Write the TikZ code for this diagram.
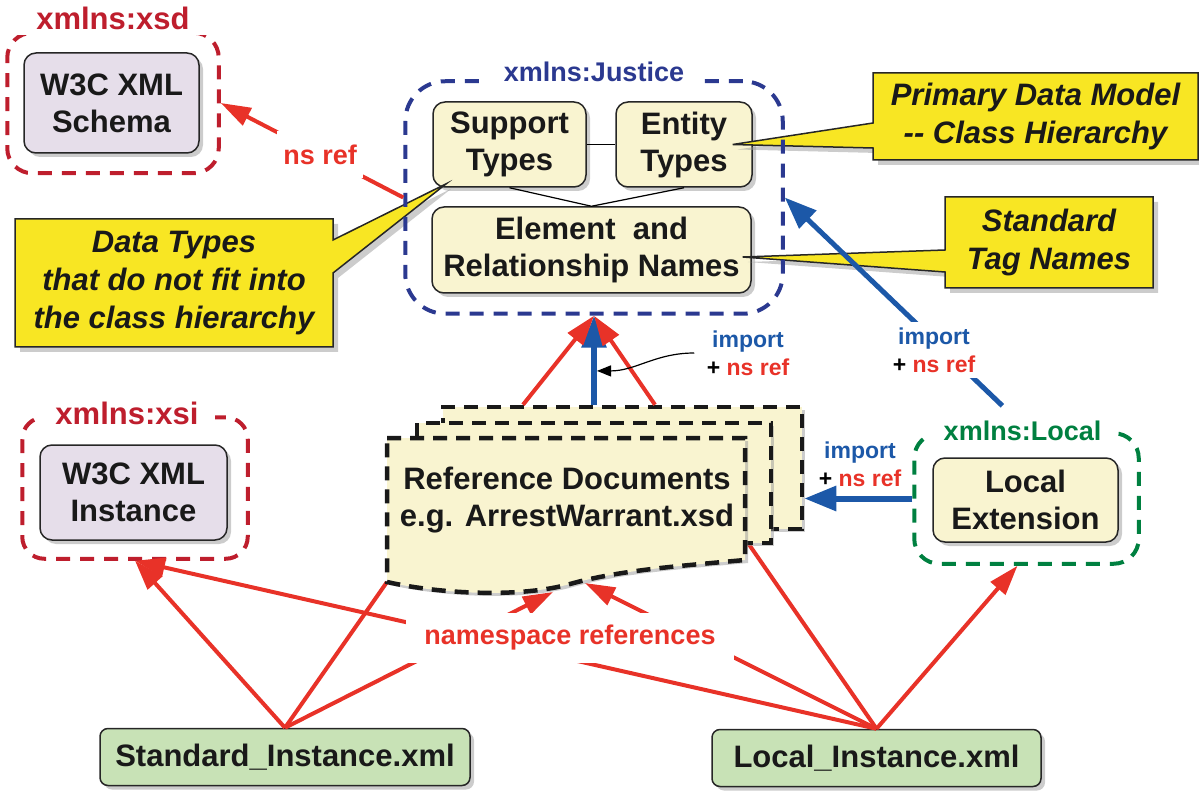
\documentclass[tikz,border=0pt]{standalone}
\usepackage{fontspec}
\setmainfont{Liberation Sans}
\definecolor{nsred}{RGB}{190,30,45}
\definecolor{refred}{RGB}{232,50,40}
\definecolor{nsblue}{RGB}{43,57,144}
\definecolor{impblue}{RGB}{28,88,168}
\definecolor{nsgreen}{RGB}{0,128,64}
\definecolor{lilac}{RGB}{230,222,234}
\definecolor{cream}{RGB}{249,244,208}
\definecolor{notes}{RGB}{248,230,35}
\definecolor{mint}{RGB}{200,226,182}
\usetikzlibrary{positioning,shapes,arrows.meta,backgrounds,fit,shadows}

\begin{document}
\begin{tikzpicture}[x=1pt, y=-1pt,
    txt/.style={align=center, font=\fontsize{31}{37}\selectfont\bfseries, text=black!90},
    box/.style={txt, rectangle, rounded corners=12pt, draw=black!85, line width=1.5pt, drop shadow={shadow xshift=4pt, shadow yshift=-4pt, fill=black!40}},
    w3c/.style={box, fill=lilac, minimum width=175pt, minimum height=100pt},
    part/.style={box, fill=cream},
    inst/.style={box, rounded corners=8pt, fill=mint, minimum height=57pt},
    nsbox/.style={rectangle, draw=#1, line width=4pt, dash pattern=on 14pt off 10pt},
    nslabel/.style={fill=white, inner xsep=16pt, inner ysep=5pt, anchor=base, font=\fontsize{31}{37}\selectfont\bfseries},
    note/.style={fill=notes, draw=black!85, line width=1.5pt, drop shadow={shadow xshift=5pt, shadow yshift=-5pt, fill=black!40}},
    notetext/.style={align=center, font=\fontsize{31}{38}\selectfont\bfseries\itshape, text=black!90},
    sheet/.style={draw=black!90, fill=cream, line width=4.5pt, dash pattern=on 14pt off 9pt, drop shadow={shadow xshift=3pt, shadow yshift=-3pt, fill=black!40}},
    ref/.style={draw=refred, line width=4pt, -{Triangle[length=30pt, width=19pt]}},
    imp/.style={draw=impblue, line width=6pt, -{Triangle[length=32pt, width=24pt]}},
    small/.style={align=center, font=\fontsize{23}{28}\selectfont\bfseries}
]
    \useasboundingbox (0,0) rectangle (1199,791);

    % xmlns:xsd
    \node[w3c] (schema) at (111.5,103) {W3C XML\\Schema};
    \node[nsbox=nsred, rounded corners=25pt, fit=(schema), inner xsep=17.5pt, inner ysep=19.5pt, xshift=1.5pt] (xsdns) {};
    \node[nslabel, text=nsred, yshift=1pt, inner xsep=24pt] (xsdlbl) at (xsdns.north) {xmlns:xsd};

    % xmlns:Justice
    \node[part, minimum width=153pt, minimum height=85pt] (support) at (509.5,144.5) {Support\\Types};
    \node[part, minimum width=136pt, minimum height=85pt] (entity) at (684,144.5) {Entity\\Types};
    \node[part, minimum width=319pt, minimum height=86pt] (element) at (591.5,250) {Element~~and\\Relationship Names};
    \draw[line width=1.2pt] (support) -- (entity);
    \draw[line width=1.2pt] (support.south) -- (element.north) -- (entity.south);

    \path[note] (873,73) -- (1198,73) -- (1198,160) -- (873,160) -- (873,148) -- ([xshift=-20pt]entity.east) -- (873,123) -- cycle;
    \node[notetext] (model) at (1035.5,116.5) {Primary Data Model\\-{}- Class Hierarchy};
    \path[note] (945,197) -- (1153,197) -- (1153,288) -- (945,288) -- (945,272) -- ([xshift=-9pt,yshift=-7pt]element.east) -- (945,250) -- cycle;
    \node[notetext] (tags) at (1049,242.5) {Standard\\Tag Names};
    \path[note] (15,219) -- (333,219) -- (333,240) -- ([xshift=14pt,yshift=4pt]support.south west) -- (333,273) -- (333,347) -- (15,347) -- cycle;
    \node[notetext] (dtypes) at (174,283) {Data Types\\that do not fit into\\the class hierarchy};

    \node[nsbox=nsblue, rounded corners=40pt, fit=(support)(entity)(element), inner xsep=28pt, inner ysep=20pt, xshift=2pt] (justice) {};
    \node[nslabel, text=nsblue, font=\fontsize{27}{32}\selectfont\bfseries, yshift=-2pt] (justicelbl) at (justice.north) {xmlns:Justice};

    % xmlns:xsi and xmlns:Local
    \node[w3c, minimum width=187pt, minimum height=95pt] (instance) at (133.5,492.5) {W3C XML\\Instance};
    \node[nsbox=nsred, rounded corners=22pt, fit=(instance), inner xsep=18.5pt, inner ysep=22.5pt, xshift=1.5pt, yshift=4.5pt] (xsins) {};
    \node[nslabel, text=nsred, yshift=-9pt, xshift=-8pt] (xsilbl) at (xsins.north) {xmlns:xsi};

    \node[part, minimum width=185pt, minimum height=84pt] (ext) at (1025.5,500) {Local\\Extension};
    \node[nsbox=nsgreen, rounded corners=25pt, fit=(ext), inner xsep=19pt, inner ysep=22.5pt, xshift=1pt, yshift=1.5pt] (localns) {};
    \node[nslabel, text=nsgreen, font=\fontsize{27}{32}\selectfont\bfseries, yshift=-9pt, xshift=-4pt] (loclbl) at (localns.north) {xmlns:Local};

    % instance documents
    \node[inst, minimum width=370pt] (stdinst) at (285,757) {Standard\_Instance.xml};
    \node[inst, minimum width=329pt] (locinst) at (876.5,758) {Local\_Instance.xml};

    % reference documents
    \coordinate (docsw) at (387,582);
    \coordinate (docse) at (745,560);
    \coordinate (docstep) at (748,543);
    \coordinate (docbl) at (553,592);
    \coordinate (docbr) at (585,583);
    \draw[ref, -] (stdinst.north) -- (docsw);
    \draw[ref, -] (locinst.north) -- (docstep);
    \node[sheet, minimum width=359pt, minimum height=122pt] (sheetc) at (622.5,468) {};
    \node[sheet, minimum width=354pt, minimum height=120pt] (sheetb) at (594,483) {};
    \path[sheet] (387,438) -- (745,438) -- (docse) .. controls (680,566) and (620,570) .. (570,584) .. controls (520,598) and (440,594) .. (docsw) -- cycle;
    \node[txt] (refdoc) at (567,500) {Reference Documents\\e.g. ArrestWarrant.xsd};

    \draw[ref] (stdinst.north) -- (xsins.south);
    \draw[ref] (locinst.north) -- (xsins.south);
    \draw[ref] (stdinst.north) -- (docbl);
    \draw[ref] (locinst.north) -- (docbr);
    \draw[ref] (locinst.north) -- ([xshift=-9pt]localns.south);
    \node[fill=white, inner xsep=18pt, inner ysep=12pt, text=refred, font=\fontsize{27}{32}\selectfont\bfseries] (nsrefs) at (570,638) {namespace references};

    % imports
    \draw[imp] (justice.south |- sheetc.north) -- coordinate[pos=0.38] (impmid) (justice.south);
    \draw[ref] ([xshift=-99.5pt]sheetc.north) -- (justice.south);
    \draw[ref] ([xshift=32.5pt]sheetc.north) -- (justice.south);
    \node[small] (imp1) at (748,353) {\textcolor{impblue}{import}\\+ \textcolor{refred}{ns ref}};
    \draw[line width=1.2pt, -{Triangle[length=14pt, width=11pt]}] ([xshift=-9pt]imp1.west) to[out=180, in=0] ([xshift=3pt]impmid);

    \draw[imp] (localns.west) -- (localns.west -| sheetc.east);
    \node[small] (imp3) at (860,464) {\textcolor{impblue}{import}\\+ \textcolor{refred}{ns ref}};
    \draw[imp, line width=5pt, shorten <=14pt] ([xshift=-10pt]loclbl.north) -- (justice.east);
    \node[small, fill=white, inner sep=6pt] (imp2) at (934,350) {\textcolor{impblue}{import}\\+ \textcolor{refred}{ns ref}};

    \draw[ref] (justice.west) -- node[pos=0.455, fill=white, inner xsep=6pt, inner ysep=14pt, text=refred, font=\fontsize{27}{32}\selectfont\bfseries] (nsref) {ns ref} (xsdns.east);
\end{tikzpicture}
\end{document}
